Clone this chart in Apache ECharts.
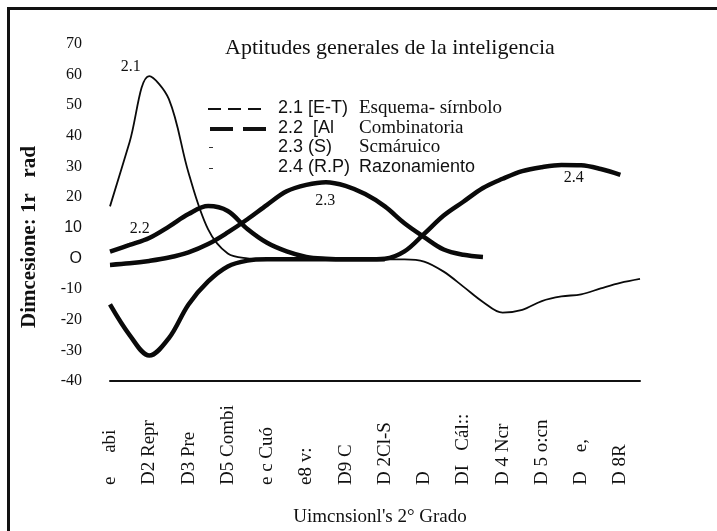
<!DOCTYPE html>
<html>
<head>
<meta charset="utf-8">
<title>Aptitudes generales de la inteligencia</title>
<script src="https://cdn.jsdelivr.net/npm/echarts@6/dist/echarts.min.js"></script>
<style>
    html, body { margin: 0; padding: 0; background: #fff; }
    #main { width: 717px; height: 531px; }
</style>
</head>
<body>
<div id="main"></div>
<script>
// categorias del eje x (texto tal como aparece en la figura)
var xLabels = ['e     abi', 'D2 Repr', 'D3 Pre', 'D5 Combi', 'e c Cuó', 'e8 v:', 'D9 C', 'D 2Cl-S', 'D',
    'DI   Cál::', 'D 4 Ncr', 'D 5 o:cn', 'D    e,', 'D 8R'];

// etiquetas del eje y
var yTicks = [-40, -30, -20, -10, 0, 10, 20, 30, 40, 50, 60, 70];
var yTickLabels = ['-40', '-30', '-20', '-10', 'O', '10', '20', '30', '40', '50', '60', '70'];
var sansTicks = ['O', '10'];

// posiciones de muestreo (en unidades de categoria)
var xs = [0, 0.5, 1, 1.5, 2, 2.5, 3, 3.5, 4, 4.5, 5, 5.5, 6, 6.5, 7,
    7.5, 8, 8.5, 9, 9.5, 10, 10.5, 11, 11.5, 12, 12.5, 13, 13.5];

// 2.1 (E-T) Esquema-simbolo
var s21 = [17, 38, 59.5, 52, 28, 9.5, 1.6, 0, -0.3, -0.3, -0.3, -0.3, -0.3, -0.3, -0.3,
    -0.3, -1.0, -4.3, -9.2, -14.2, -17.7, -16.8, -13.9, -12.4, -11.7, -9.8, -8.0, -6.7];
// 2.2 (A) Combinatoria
var s22 = [2.2, 4.4, 6.7, 10.4, 14.5, 17.1, 15.5, 9.6, 5.1, 2.3, 0.5, -0.1, -0.3, -0.3, -0.3,
    null, null, null, null, null, null, null, null, null, null, null, null, null];
// 2.3 (S) Semantico
var s23 = [-2.1, -1.6, -0.8, 0.3, 2.0, 4.7, 8.5, 12.8, 17.5, 21.9, 24.0, 24.9, 23.7, 21.0, 17.0,
    11.5, 7.0, 2.9, 1.2, 0.5, null, null, null, null, null, null, null, null];
// 2.4 (R.P) Razonamiento
var s24 = [-15, -25, -31.7, -26, -15, -7.5, -2.6, -0.7, -0.3, -0.3, -0.3, -0.3, -0.3, -0.3, -0.1,
    2.3, 8.0, 14.0, 18.5, 23.0, 26.0, 28.5, 29.8, 30.5, 30.4, 29.2, 27.3, null];

var curveLabels = [
    { name: '2.1', x: 0.53, y: 62.5 },
    { name: '2.2', x: 0.76, y: 9.6 },
    { name: '2.3', x: 5.48, y: 18.7 },
    { name: '2.4', x: 11.81, y: 26.3 }
];

var legendRows = [
    { code: '2.1 [E-T)', text: 'Esquema- sírnbolo', serif: true },
    { code: '2.2  [Al', text: 'Combinatoria', serif: true },
    { code: '2.3 (S)', text: 'Scmáruico', serif: true },
    { code: '2.4 (R.P)', text: 'Razonamiento', serif: false }
];

var SERIF = '"Liberation Serif", "DejaVu Serif", serif';
var SANS = '"Liberation Sans", Arial, sans-serif';

function pairs(ys) {
    var out = [];
    for (var i = 0; i < xs.length; i++) {
        if (ys[i] !== null) out.push([xs[i], ys[i]]);
    }
    return out;
}

function makeSeries(name, ys, width, labelIdx) {
    var lab = curveLabels[labelIdx];
    return {
        name: name,
        type: 'line',
        smooth: 0.35,
        showSymbol: false,
        lineStyle: { color: '#0a0a0a', width: width },
        itemStyle: { color: '#0a0a0a' },
        data: pairs(ys),
        markPoint: {
            symbol: 'circle',
            symbolSize: 0,
            label: {
                show: true,
                position: 'inside',
                formatter: lab.name,
                color: '#111',
                fontFamily: SERIF,
                fontSize: 16
            },
            data: [{ coord: [lab.x, lab.y] }]
        }
    };
}

var myChart = echarts.init(document.getElementById('main'));

// leyenda dibujada a mano, como en el original
var graphics = [
    { type: 'line', shape: { x1: 8.5, y1: 7, x2: 8.5, y2: 531 }, style: { stroke: '#111', lineWidth: 3 } },
    { type: 'line', shape: { x1: 7, y1: 8.5, x2: 717, y2: 8.5 }, style: { stroke: '#111', lineWidth: 3 } },
    {
        type: 'text', x: 225, y: 48,
        style: { text: 'Aptitudes generales de la inteligencia', font: '22px ' + SERIF, fill: '#111', verticalAlign: 'middle' }
    },
    { type: 'line', shape: { x1: 208, y1: 109, x2: 263, y2: 109 }, style: { stroke: '#111', lineWidth: 2, lineDash: [13, 7] } },
    { type: 'line', shape: { x1: 210, y1: 129, x2: 266, y2: 129 }, style: { stroke: '#111', lineWidth: 4, lineDash: [23, 10] } },
    { type: 'line', shape: { x1: 209, y1: 147.5, x2: 213, y2: 147.5 }, style: { stroke: '#333', lineWidth: 1 } },
    { type: 'line', shape: { x1: 209, y1: 168.5, x2: 213, y2: 168.5 }, style: { stroke: '#333', lineWidth: 1 } },
    {
        type: 'text', x: 30, y: 237, rotation: Math.PI / 2,
        style: { text: 'Dimcesione: 1r   rad', font: 'bold 21px ' + SERIF, fill: '#111', align: 'center', verticalAlign: 'middle' }
    },
    {
        type: 'text', x: 380, y: 517,
        style: { text: "Uimcnsionl's 2° Grado", font: '19px ' + SERIF, fill: '#111', align: 'center', verticalAlign: 'middle' }
    }
];
var rowY = [108, 128, 147, 167];
legendRows.forEach(function(row, i) {
    graphics.push({
        type: 'text', x: 278, y: rowY[i],
        style: { text: row.code, font: '18px ' + SANS, fill: '#111', verticalAlign: 'middle' }
    });
    graphics.push({
        type: 'text', x: 359, y: rowY[i],
        style: { text: row.text, font: row.serif ? '19px ' + SERIF : '18px ' + SANS, fill: '#111', verticalAlign: 'middle' }
    });
});

var option = {
    backgroundColor: '#fff',
    animation: false,
    grid: { left: 110, right: 77, top: 44, bottom: 150, containLabel: false },
    xAxis: {
        type: 'value',
        min: 0,
        max: 13.5,
        interval: 1,
        axisLine: { show: true, onZero: false, lineStyle: { color: '#111', width: 2 } },
        axisTick: { show: false },
        splitLine: { show: false },
        axisLabel: {
            rotate: 90,
            align: 'left',
            verticalAlign: 'middle',
            margin: 104,
            color: '#111',
            fontFamily: SERIF,
            fontSize: 19,
            formatter: function(v) {
                return (Math.round(v) === v && xLabels[v] !== undefined) ? xLabels[v] : '';
            }
        }
    },
    yAxis: {
        type: 'value',
        min: -40,
        max: 70,
        interval: 10,
        axisLine: { show: false },
        axisTick: { show: false },
        splitLine: { show: false },
        axisLabel: {
            margin: 28,
            color: '#111',
            fontFamily: SERIF,
            fontSize: 16,
            formatter: function(v) {
                var idx = yTicks.indexOf(v);
                if (idx < 0) return '';
                var t = yTickLabels[idx];
                return sansTicks.indexOf(t) >= 0 ? '{s|' + t + '}' : t;
            },
            rich: {
                s: { fontFamily: SANS, fontSize: 16, color: '#111' }
            }
        }
    },
    graphic: graphics,
    series: [
        makeSeries('2.1', s21, 1.8, 0),
        makeSeries('2.2', s22, 4.5, 1),
        makeSeries('2.3', s23, 4.5, 2),
        makeSeries('2.4', s24, 4.5, 3)
    ]
};

myChart.setOption(option);
</script>
</body>
</html>
